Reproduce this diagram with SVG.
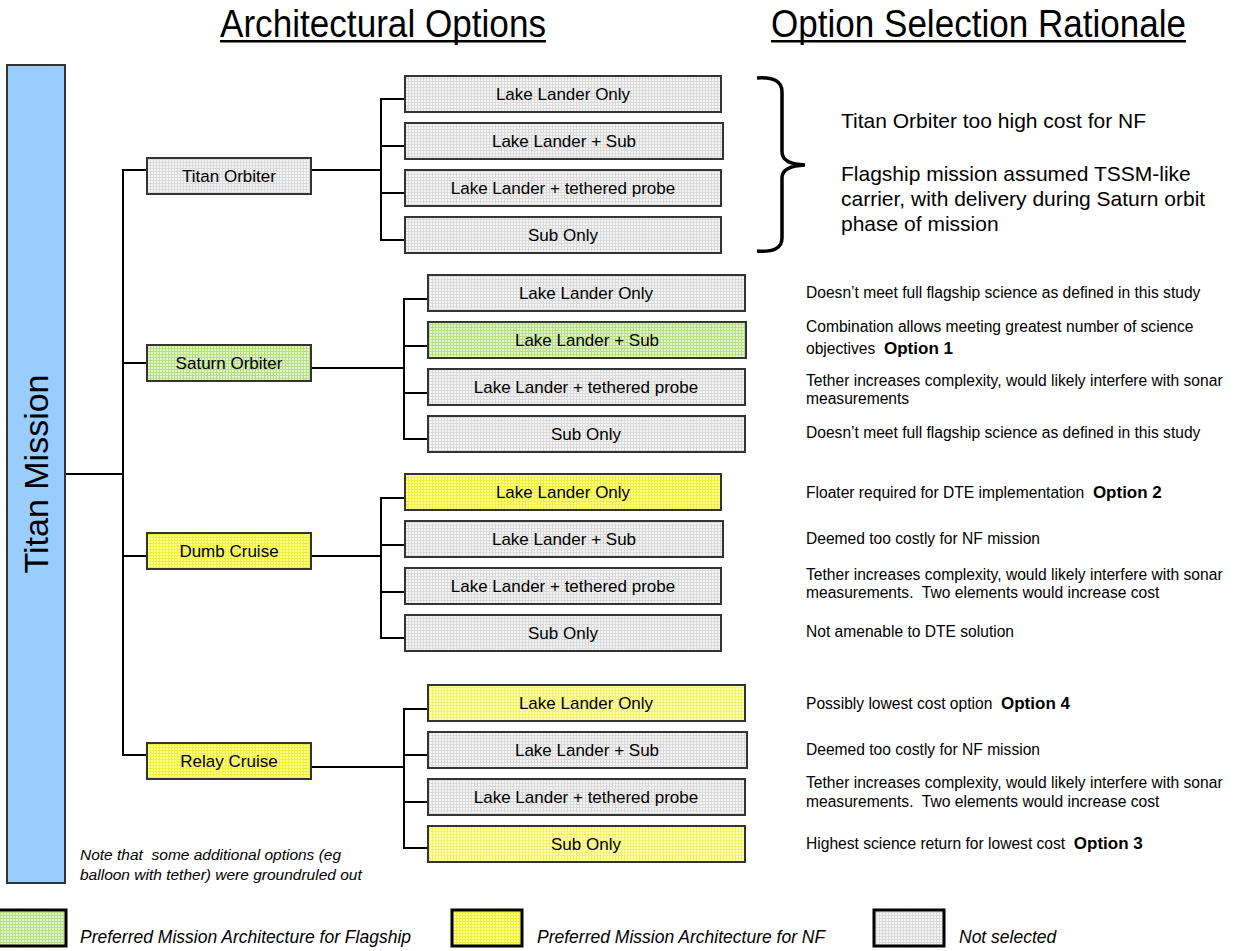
<svg xmlns="http://www.w3.org/2000/svg" width="1237" height="951" viewBox="0 0 1237 951">
  <defs>
    <!-- fine grid fills for the option boxes -->
    <pattern id="fillGrey" width="3" height="3" patternUnits="userSpaceOnUse">
      <rect width="3" height="3" fill="#F5F5F5"/>
      <rect width="3" height="1" fill="#DADADA"/>
      <rect width="1" height="3" fill="#DADADA"/>
    </pattern>
    <pattern id="fillGreen" width="3" height="3" patternUnits="userSpaceOnUse">
      <rect width="3" height="3" fill="#E2F5CC"/>
      <rect width="3" height="1" fill="#B5DE85"/>
      <rect width="1" height="3" fill="#B5DE85"/>
    </pattern>
    <pattern id="fillYellow" width="3" height="3" patternUnits="userSpaceOnUse">
      <rect width="3" height="3" fill="#FFFF88"/>
      <rect width="3" height="1" fill="#F0F040"/>
      <rect width="1" height="3" fill="#F0F040"/>
    </pattern>
    <pattern id="fillPaleYellow" width="3" height="3" patternUnits="userSpaceOnUse">
      <rect width="3" height="3" fill="#FFFFB0"/>
      <rect width="3" height="1" fill="#F5F070"/>
      <rect width="1" height="3" fill="#F5F070"/>
    </pattern>
  </defs>
  <style>
    text { font-family: "Liberation Sans", Arial, sans-serif; fill: #000; white-space: pre; }
    .box { stroke: #333; stroke-width: 2; }
    .grey { fill: url(#fillGrey); }
    .green { fill: url(#fillGreen); }
    .yellow { fill: url(#fillYellow); }
    .pale { fill: url(#fillPaleYellow); }
    .lbl { font-size: 17px; text-anchor: middle; }
    .title { font-size: 38px; }
    .rat { font-size: 15.6px; }
    .ratBig { font-size: 21px; }
    .opt { font-size: 17px; font-weight: bold; }
    .note { font-size: 15.5px; font-style: italic; }
    .legend { font-size: 17.5px; font-style: italic; }
    .wire { fill: none; stroke: #000; stroke-width: 2; }
    .legBox { stroke: #000; stroke-width: 3; }
  </style>

  <rect width="1237" height="951" fill="#FFFFFF"/>

  <!-- column headings -->
  <g id="headings">
    <text class="title" x="220" y="37" textLength="326" lengthAdjust="spacingAndGlyphs">Architectural Options</text>
    <rect x="220" y="40" width="326" height="2.5" fill="#000"/>
    <text class="title" x="771" y="37" textLength="415" lengthAdjust="spacingAndGlyphs">Option Selection Rationale</text>
    <rect x="771" y="40" width="415" height="2.5" fill="#000"/>
  </g>

  <!-- connectors -->
  <g id="connectors" class="wire">
    <path d="M65 474 H123 M123 169 V756 M123 170 H147 M123 363 H147 M123 556 H147 M123 755 H147"/>
    <!-- Titan Orbiter branch -->
    <path d="M311 170 H381 M381 98 V241 M381 99 H405 M381 146 H405 M381 193 H405 M381 240 H405"/>
    <!-- Saturn Orbiter branch -->
    <path d="M311 368 H404 M404 298 V440 M404 299 H428 M404 346 H428 M404 393 H428 M404 439 H428"/>
    <!-- Dumb Cruise branch -->
    <path d="M311 556 H381 M381 497 V639 M381 498 H405 M381 545 H405 M381 592 H405 M381 638 H405"/>
    <!-- Relay Cruise branch -->
    <path d="M311 767 H404 M404 708 V849 M404 709 H428 M404 755 H428 M404 802 H428 M404 848 H428"/>
  </g>

  <!-- root -->
  <g id="titan-mission">
    <rect x="7" y="65" width="58" height="818" fill="#99CCFF" stroke="#333" stroke-width="2"/>
    <text x="48" y="474" font-size="34" text-anchor="middle" transform="rotate(-90 48 474)">Titan Mission</text>
  </g>

  <!-- Titan Orbiter -->
  <g id="titan-orbiter">
    <rect class="box grey" x="147" y="158" width="164" height="36"/>
    <text class="lbl" x="229" y="182">Titan Orbiter</text>
  </g>
  <g id="to-lake-lander-only">
    <rect class="box grey" x="405" y="76" width="316" height="36"/>
    <text class="lbl" x="563" y="100">Lake Lander Only</text>
  </g>
  <g id="to-lake-lander-sub">
    <rect class="box grey" x="405" y="123" width="318" height="36"/>
    <text class="lbl" x="564" y="147">Lake Lander + Sub</text>
  </g>
  <g id="to-lake-lander-tethered">
    <rect class="box grey" x="405" y="170" width="316" height="36"/>
    <text class="lbl" x="563" y="194">Lake Lander + tethered probe</text>
  </g>
  <g id="to-sub-only">
    <rect class="box grey" x="405" y="217" width="316" height="36"/>
    <text class="lbl" x="563" y="241">Sub Only</text>
  </g>

  <!-- Saturn Orbiter -->
  <g id="saturn-orbiter">
    <rect class="box green" x="147" y="345" width="164" height="36"/>
    <text class="lbl" x="229" y="369">Saturn Orbiter</text>
  </g>
  <g id="so-lake-lander-only">
    <rect class="box grey" x="428" y="275" width="317" height="36"/>
    <text class="lbl" x="586" y="299">Lake Lander Only</text>
  </g>
  <g id="so-lake-lander-sub">
    <rect class="box green" x="428" y="322" width="318" height="36"/>
    <text class="lbl" x="587" y="346">Lake Lander + Sub</text>
  </g>
  <g id="so-lake-lander-tethered">
    <rect class="box grey" x="428" y="369" width="317" height="36"/>
    <text class="lbl" x="586" y="393">Lake Lander + tethered probe</text>
  </g>
  <g id="so-sub-only">
    <rect class="box grey" x="428" y="416" width="317" height="36"/>
    <text class="lbl" x="586" y="440">Sub Only</text>
  </g>

  <!-- Dumb Cruise -->
  <g id="dumb-cruise">
    <rect class="box yellow" x="147" y="533" width="164" height="36"/>
    <text class="lbl" x="229" y="557">Dumb Cruise</text>
  </g>
  <g id="dc-lake-lander-only">
    <rect class="box yellow" x="405" y="474" width="316" height="36"/>
    <text class="lbl" x="563" y="498">Lake Lander Only</text>
  </g>
  <g id="dc-lake-lander-sub">
    <rect class="box grey" x="405" y="521" width="318" height="36"/>
    <text class="lbl" x="564" y="545">Lake Lander + Sub</text>
  </g>
  <g id="dc-lake-lander-tethered">
    <rect class="box grey" x="405" y="568" width="316" height="36"/>
    <text class="lbl" x="563" y="592">Lake Lander + tethered probe</text>
  </g>
  <g id="dc-sub-only">
    <rect class="box grey" x="405" y="615" width="316" height="36"/>
    <text class="lbl" x="563" y="639">Sub Only</text>
  </g>

  <!-- Relay Cruise -->
  <g id="relay-cruise">
    <rect class="box yellow" x="147" y="743" width="164" height="36"/>
    <text class="lbl" x="229" y="767">Relay Cruise</text>
  </g>
  <g id="rc-lake-lander-only">
    <rect class="box pale" x="428" y="685" width="317" height="36"/>
    <text class="lbl" x="586" y="709">Lake Lander Only</text>
  </g>
  <g id="rc-lake-lander-sub">
    <rect class="box grey" x="428" y="732" width="319" height="36"/>
    <text class="lbl" x="587" y="756">Lake Lander + Sub</text>
  </g>
  <g id="rc-lake-lander-tethered">
    <rect class="box grey" x="428" y="779" width="317" height="36"/>
    <text class="lbl" x="586" y="803">Lake Lander + tethered probe</text>
  </g>
  <g id="rc-sub-only">
    <rect class="box pale" x="428" y="826" width="317" height="36"/>
    <text class="lbl" x="586" y="850">Sub Only</text>
  </g>

  <!-- brace grouping the Titan Orbiter options -->
  <g id="brace">
    <path d="M757 78 Q782 76 782 92 V152 Q782 164 805 165 Q782 166 782 178 V238 Q782 253 757 251" fill="none" stroke="#000" stroke-width="3.5"/>
  </g>

  <!-- selection rationale -->
  <g id="rationale">
    <text class="ratBig" x="841" y="128">Titan Orbiter too high cost for NF</text>
    <text class="ratBig" x="841" y="181">Flagship mission assumed TSSM-like</text>
    <text class="ratBig" x="841" y="206">carrier, with delivery during Saturn orbit</text>
    <text class="ratBig" x="841" y="231">phase of mission</text>

    <text class="rat" x="806" y="298">Doesn’t meet full flagship science as defined in this study</text>
    <text class="rat" x="806" y="332">Combination allows meeting greatest number of science</text>
    <text class="rat" x="806" y="354">objectives  <tspan class="opt">Option 1</tspan></text>
    <text class="rat" x="806" y="386">Tether increases complexity, would likely interfere with sonar</text>
    <text class="rat" x="806" y="404">measurements</text>
    <text class="rat" x="806" y="438">Doesn’t meet full flagship science as defined in this study</text>

    <text class="rat" x="806" y="498">Floater required for DTE implementation  <tspan class="opt">Option 2</tspan></text>
    <text class="rat" x="806" y="544">Deemed too costly for NF mission</text>
    <text class="rat" x="806" y="580">Tether increases complexity, would likely interfere with sonar</text>
    <text class="rat" x="806" y="598">measurements.  Two elements would increase cost</text>
    <text class="rat" x="806" y="637">Not amenable to DTE solution</text>

    <text class="rat" x="806" y="709">Possibly lowest cost option  <tspan class="opt">Option 4</tspan></text>
    <text class="rat" x="806" y="755">Deemed too costly for NF mission</text>
    <text class="rat" x="806" y="788">Tether increases complexity, would likely interfere with sonar</text>
    <text class="rat" x="806" y="807">measurements.  Two elements would increase cost</text>
    <text class="rat" x="806" y="849">Highest science return for lowest cost  <tspan class="opt">Option 3</tspan></text>
  </g>

  <!-- note -->
  <g id="note">
    <text class="note" x="80" y="860">Note that  some additional options (eg</text>
    <text class="note" x="80" y="880">balloon with tether) were groundruled out</text>
  </g>

  <!-- legend -->
  <g id="legend">
    <rect class="legBox green" x="-5" y="910" width="71" height="36"/>
    <text class="legend" x="80" y="943">Preferred Mission Architecture for Flagship</text>
    <rect class="legBox yellow" x="452" y="910" width="70" height="36"/>
    <text class="legend" x="537" y="943">Preferred Mission Architecture for NF</text>
    <rect class="legBox grey" x="874" y="910" width="70" height="36"/>
    <text class="legend" x="959" y="943">Not selected</text>
  </g>
</svg>
